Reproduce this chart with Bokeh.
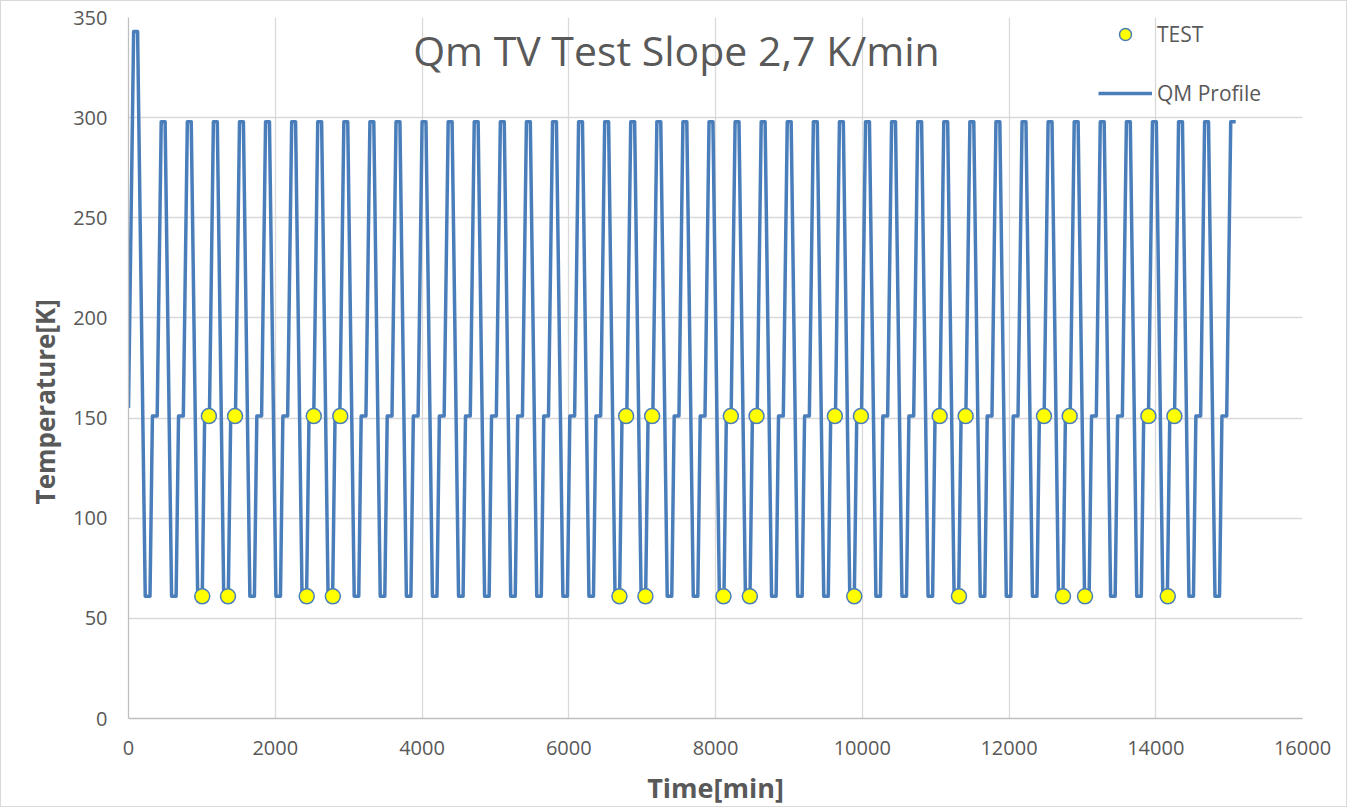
from bokeh.plotting import figure
from bokeh.models import Range1d, Legend, LegendItem, Label, FixedTicker
from bokeh.embed import file_html
from bokeh.resources import INLINE

# ---------------- data ----------------
# opening of the profile: start, hot peak, first cold plateau, first 151 K step
start_times = [0, 70, 124, 228, 293, 326, 391]
start_temps = [155, 343, 343, 61, 61, 151, 151]

# start time of each hot (298 K) plateau of the cycling part [min]
cycle_starts = [446, 802, 1157, 1513, 1868, 2224, 2579, 2935, 3290, 3646,
                4001, 4357, 4712, 5068, 5423, 5779, 6134, 6490, 6845, 7201,
                7556, 7912, 8267, 8623, 8978, 9334, 9689, 10045, 10400, 10756,
                11111, 11467, 11822, 12178, 12533, 12889, 13244, 13600, 13955,
                14311, 14666]
# shape of one cycle: minutes after the start of the hot plateau, and temperature
cycle_offsets = [0, 53, 141, 203, 236, 301]
cycle_temps = [298, 298, 61, 61, 151, 151]
# last rise ends on a short hot plateau
final_times = [15022, 15090]
final_temps = [298, 298]

# TEST points
test_times = [1005, 1096, 1356, 1452, 2429, 2525, 2785, 2886,
              6691, 6782, 7045, 7136, 8109, 8209, 8468, 8559,
              9627, 9891, 9982, 11055, 11318, 11409, 12477, 12736,
              12827, 13036, 13900, 14164, 14254]
test_temps = [61, 151, 61, 151, 61, 151, 61, 151,
              61, 151, 61, 151, 61, 151, 61, 151,
              151, 61, 151, 151, 61, 151, 151, 61,
              151, 61, 151, 61, 151]

x_ticks = [0, 2000, 4000, 6000, 8000, 10000, 12000, 14000, 16000]
y_ticks = [0, 50, 100, 150, 200, 250, 300, 350]

# ---------------- build the profile series ----------------
prof_t = list(start_times)
prof_T = list(start_temps)
for s in cycle_starts:
    for off, temp in zip(cycle_offsets, cycle_temps):
        prof_t.append(s + off)
        prof_T.append(temp)
prof_t += final_times
prof_T += final_temps

BLUE = "#4a7ebb"
GREY_TXT = "#595959"
FONT = "Open Sans"

p = figure(width=1347, height=807, output_backend="svg", toolbar_location=None,
           x_range=Range1d(0, 16000), y_range=Range1d(0, 350),
           min_border_left=127, min_border_right=46,
           min_border_top=16, min_border_bottom=88)
p.title.text = ""
p.outline_line_color = None
p.background_fill_color = "white"
p.border_fill_color = "white"
p.styles = {"border": "1px solid #d9d9d9"}

p.xaxis.ticker = FixedTicker(ticks=x_ticks)
p.yaxis.ticker = FixedTicker(ticks=y_ticks)
p.xgrid.ticker = FixedTicker(ticks=x_ticks)
p.ygrid.ticker = FixedTicker(ticks=y_ticks)
for g in (p.xgrid[0], p.ygrid[0]):
    g.grid_line_color = "#d9d9d9"
    g.grid_line_width = 1.3

for ax in (p.xaxis[0], p.yaxis[0]):
    ax.axis_line_color = "#bfbfbf"
    ax.axis_line_width = 1.3
    ax.major_tick_line_color = None
    ax.minor_tick_line_color = None
    ax.major_tick_in = 0
    ax.major_tick_out = 0
    ax.major_label_text_color = GREY_TXT
    ax.major_label_text_font = FONT
    ax.major_label_text_font_size = "20px"
    ax.axis_label_text_font = FONT
    ax.axis_label_text_font_style = "bold"
    ax.axis_label_text_color = GREY_TXT

p.xaxis.axis_label = "Time[min]"
p.xaxis.axis_label_text_font_size = "27px"
p.xaxis.major_label_standoff = 22
p.xaxis.axis_label_standoff = 11

# y-axis title sits a little below the middle of the plot area in the reference:
# trailing no-break spaces push the visible text down along the axis
p.yaxis.axis_label = "Temperature[K]" + "\u00a0" * 10
p.yaxis.axis_label_text_font_size = "26px"
p.yaxis.major_label_standoff = 21
p.yaxis.axis_label_standoff = 7

ln = p.line(prof_t, prof_T, line_color=BLUE, line_width=3.5, line_join="round")
sc = p.scatter(test_times, test_temps, size=15, fill_color="#ffff00",
               line_color=BLUE, line_width=1.5)

common = dict(glyph_width=54, glyph_height=30, label_height=30, label_standoff=5,
              padding=0, margin=0, spacing=0, border_line_color=None,
              background_fill_alpha=0, label_text_font=FONT,
              label_text_font_size="21px", label_text_color=GREY_TXT)
leg1 = Legend(items=[LegendItem(label="TEST", renderers=[sc])], location=(970, 669), **common)
leg2 = Legend(items=[LegendItem(label="QM Profile", renderers=[ln])], location=(970, 610), **common)
p.add_layout(leg1)
p.add_layout(leg2)

p.add_layout(Label(x=7468, y=334, text="Qm TV Test Slope 2,7 K/min",
                   text_align="center", text_baseline="alphabetic",
                   text_font=FONT, text_font_size="41px", text_color=GREY_TXT))

open("out.html", "w").write(file_html(p, INLINE))
